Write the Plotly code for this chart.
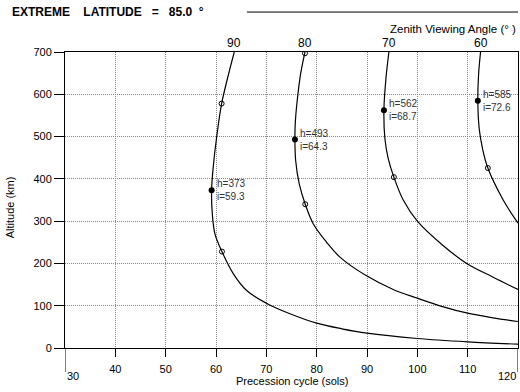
import plotly.graph_objects as go

# ---- data ----
angles = ["90", "80", "70", "60"]

z90_x = [63.63, 62.44, 61.12, 60.13, 59.45, 59.13, 59.26, 59.79, 61.18, 63.43, 66.09, 70.0, 74.7, 80.0, 85.0, 90.0, 100.0, 110.0, 120.0]
z90_y = [700, 645, 578, 499, 428, 374, 318, 270, 228, 176, 136, 106, 81, 58.7, 45.4, 35, 22.5, 14.6, 9]

z80_x = [77.68, 76.82, 76.14, 75.74, 75.68, 75.82, 76.54, 77.73, 79.32, 81.98, 84.62, 90.0, 95.2, 100.0, 105.0, 110.0, 115.0, 120.0]
z80_y = [700, 649, 586, 530, 494, 444, 388, 340, 294, 250, 215, 170, 138.4, 117.8, 98, 82.4, 71.4, 62.7]

z70_x = [94.35, 93.76, 93.36, 93.56, 94.22, 95.34, 97.2, 100.0, 105.1, 109.8, 115.07, 120.0]
z70_y = [700, 637, 563, 495, 448, 404, 350, 300, 242.5, 200, 167.5, 138.4]

z60_x = [112.56, 112.16, 112.02, 112.29, 112.96, 114.01, 117.06, 120.0]
z60_y = [700, 645, 587, 519, 471, 425.5, 350, 295.3]

# filled points with labels
pt_x = [59.13, 75.68, 93.36, 112.02]
pt_h = [373, 493, 562, 585]
pt_i = [59.3, 64.3, 68.7, 72.6]

# open circles
oc_x = [61.12, 61.18, 77.68, 77.73, 95.34, 114.01]
oc_y = [578, 228, 697, 340, 404, 425.5]

x_ticks = [40, 50, 60, 70, 80, 90, 100, 110]
x_end_ticks = [30, 120]
y_ticks = [0, 100, 200, 300, 400, 500, 600, 700]

FONT = "Liberation Sans, Arial, sans-serif"

fig = go.Figure()
curves = [(z90_x, z90_y), (z80_x, z80_y), (z70_x, z70_y), (z60_x, z60_y)]
for (cx, cy) in curves:
    fig.add_trace(go.Scatter(x=cx, y=cy, mode="lines",
                             line=dict(color="black", width=1.2, shape="spline", smoothing=1.0),
                             showlegend=False, hoverinfo="skip"))

fig.add_trace(go.Scatter(x=oc_x, y=oc_y, mode="markers",
                         marker=dict(symbol="circle-open", size=5, color="black", line=dict(width=1)),
                         showlegend=False))
fig.add_trace(go.Scatter(x=pt_x, y=pt_h, mode="markers",
                         marker=dict(symbol="circle", size=6, color="black"),
                         showlegend=False))

annotations = []
for x, h, i in zip(pt_x, pt_h, pt_i):
    annotations.append(dict(x=x, y=h, xref="x", yref="y", text=f"h={h}<br>i={i}",
                            showarrow=False, xanchor="left", yanchor="middle", align="left",
                            xshift=3, font=dict(family=FONT, size=10, color="#333")))

# top angle labels at the curve tops
for lab, (cx, cy) in zip(angles, curves):
    annotations.append(dict(x=cx[0], y=700, xref="x", yref="y", text=lab, showarrow=False,
                            xanchor="center", yanchor="bottom", yshift=0,
                            font=dict(family=FONT, size=12, color="black")))

# end tick labels 30 and 120
annotations.append(dict(x=x_end_ticks[0], y=-0.095, xref="x", yref="paper", text=str(x_end_ticks[0]),
                        showarrow=False, xanchor="left", yanchor="middle",
                        font=dict(family=FONT, size=11, color="black")))
annotations.append(dict(x=x_end_ticks[1], y=-0.095, xref="x", yref="paper", text=str(x_end_ticks[1]),
                        showarrow=False, xanchor="right", yanchor="middle",
                        font=dict(family=FONT, size=11, color="black")))

annotations.append(dict(x=0.5, y=-0.112, xref="paper", yref="paper", text="Precession cycle (sols)",
                        showarrow=False, xanchor="center", yanchor="middle",
                        font=dict(family=FONT, size=11, color="black")))
annotations.append(dict(x=-0.121, y=0.476, xref="paper", yref="paper", text="Altitude (km)",
                        showarrow=False, xanchor="center", yanchor="middle", textangle=-90,
                        font=dict(family=FONT, size=11, color="black")))
annotations.append(dict(x=1.0, y=1.078, xref="paper", yref="paper", text="Zenith Viewing Angle (° )",
                        showarrow=False, xanchor="right", yanchor="middle",
                        font=dict(family=FONT, size=11.5, color="black")))
NB = "&nbsp;"
title_text = "<b>EXTREME" + NB * 4 + "LATITUDE" + NB * 3 + "=" + NB * 3 + "85.0" + NB * 2 + "°</b>"
annotations.append(dict(x=-0.122, y=1.135, xref="paper", yref="paper",
                        text=title_text,
                        showarrow=False, xanchor="left", yanchor="middle",
                        font=dict(family=FONT, size=12, color="black")))

shapes = [
    dict(type="line", xref="paper", yref="paper", x0=0.4018, x1=1.0, y0=1.135, y1=1.135,
         line=dict(color="black", width=1)),
]
for xe in x_end_ticks:
    shapes.append(dict(type="line", xref="x", yref="paper", x0=xe, x1=xe, y0=0, y1=-0.081,
                       line=dict(color="black", width=1)))

fig.update_layout(
    width=520, height=392,
    margin=dict(l=65, r=2, t=52, b=44),
    paper_bgcolor="white", plot_bgcolor="white",
    font=dict(family=FONT, size=11, color="black"),
    annotations=annotations, shapes=shapes, showlegend=False,
)
fig.update_xaxes(range=[30, 120], tickvals=x_ticks, ticks="outside", ticklen=8, tickcolor="black",
                 showline=True, linecolor="black", linewidth=1, mirror=True,
                 showgrid=True, gridcolor="#888", griddash="1px,1px", gridwidth=1, zeroline=False,
                 ticklabelstandoff=3,
                 tickfont=dict(family=FONT, size=11))
fig.update_yaxes(range=[0, 700], tickvals=y_ticks, ticks="outside", ticklen=10, tickcolor="black",
                 showline=True, linecolor="black", linewidth=1, mirror=True,
                 showgrid=True, gridcolor="#888", griddash="1px,1px", gridwidth=1, zeroline=False,
                 tickfont=dict(family=FONT, size=11))

fig.write_html("out.html")
